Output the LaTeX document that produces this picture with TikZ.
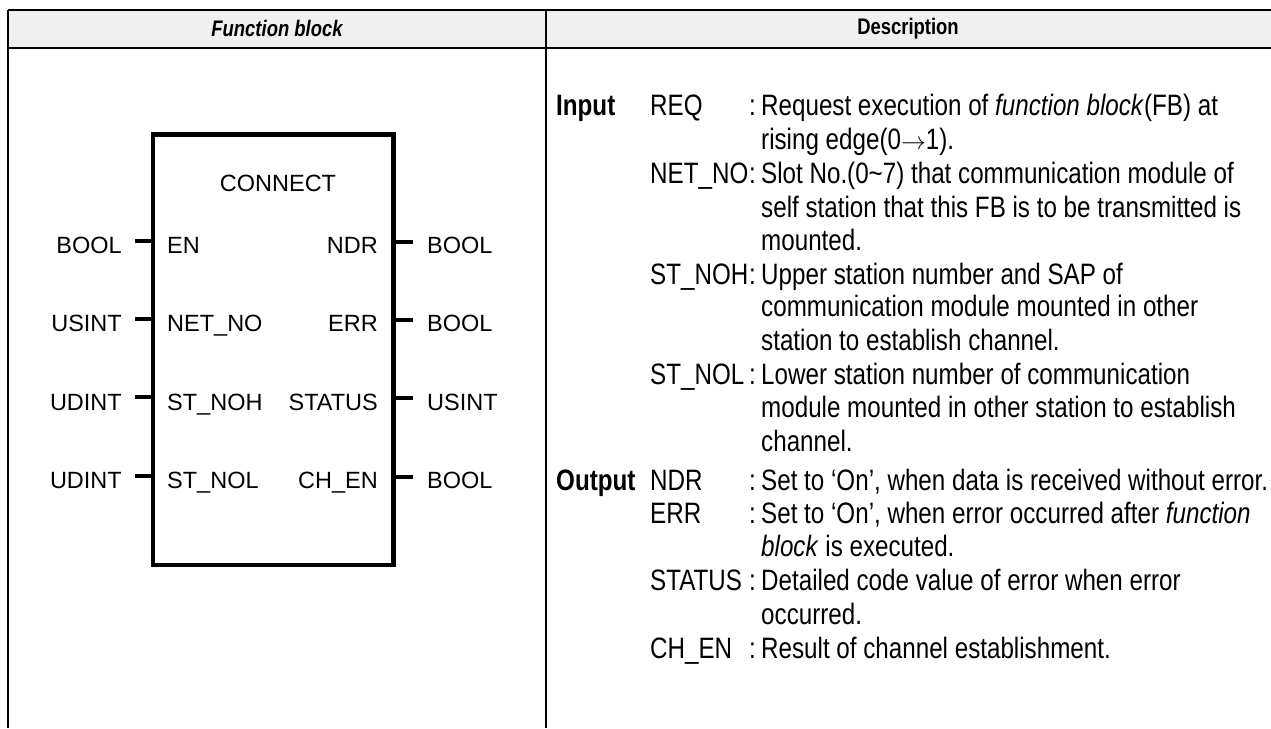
\documentclass[tikz,border=0pt]{standalone}
\usepackage{fontspec}
\setmainfont{Liberation Sans}
\newfontfamily\narfont[FakeStretch=0.82]{Liberation Sans}
\definecolor{hdrfill}{HTML}{F0F0F0}
\begin{document}
\begin{tikzpicture}[x=1pt,y=-1pt,
  tline/.style={line width=2pt},
  blk/.style={font=\fontsize{23.5}{28}\selectfont, inner sep=0pt},
  desc/.style={font=\narfont\fontsize{29.5}{34}\selectfont, inner sep=0pt, anchor=base west},
  descb/.style={desc, font=\narfont\bfseries\fontsize{29.5}{34}\selectfont},
  hdr/.style={font=\narfont\bfseries\fontsize{22.5}{26}\selectfont, inner sep=0pt},
  pin/.style={line width=4pt},
  fbbox/.style={draw, line width=4.7pt, inner sep=0pt, minimum width=240.3pt, minimum height=430.7pt}
]
\useasboundingbox (0,0) rectangle (1271,728);
% table
\fill[hdrfill] (8,9.5) rectangle (1271,47.5);
\coordinate (tl) at (8,9.5);
\coordinate (tr) at (1271,9.5);
\coordinate (hl) at (8,47.5);
\coordinate (hr) at (1271,47.5);
\coordinate (bl) at (8,728);
\coordinate (dt) at (546,9.5);
\coordinate (db) at (546,728);
\draw[tline] (tl) -- (tr);
\draw[tline] (hl) -- (hr);
\draw[tline] (tl) -- (bl);
\draw[tline] (dt) -- (db);
\node[hdr] (h1) at (277,28.5) {\itshape Function block};
\node[hdr] (h2) at (908,28.5) {Description};

% function block
\node[fbbox] (fb) at (273.15,349.65) {};
\node[blk] (title) at (278,183) {CONNECT};

\foreach \nm/\yy in {a/245, b/323.3, c/401.6, d/480} {
  \coordinate (in\nm) at (135,\yy-4.5);
  \coordinate (out\nm) at (413,\yy-3.5);
  \draw[pin] (in\nm) -- (in\nm -| fb.west);
  \draw[pin] (out\nm -| fb.east) -- (out\nm);
}
\node[blk, anchor=base east] (ta) at (122,253.4) {BOOL};
\node[blk, anchor=base east] (tb) at (122,331.7) {USINT};
\node[blk, anchor=base east] (tc) at (122,410.0) {UDINT};
\node[blk, anchor=base east] (td) at (122,488.4) {UDINT};
\node[blk, anchor=base west] (pa) at (167,253.4) {EN};
\node[blk, anchor=base west] (pb) at (167,331.7) {NET\_NO};
\node[blk, anchor=base west] (pc) at (167,410.0) {ST\_NOH};
\node[blk, anchor=base west] (pd) at (167,488.4) {ST\_NOL};
\node[blk, anchor=base east] (qa) at (378,253.4) {NDR};
\node[blk, anchor=base east] (qb) at (378,331.7) {ERR};
\node[blk, anchor=base east] (qc) at (378,410.0) {STATUS};
\node[blk, anchor=base east] (qd) at (378,488.4) {CH\_EN};
\node[blk, anchor=base west] (ra) at (427,253.4) {BOOL};
\node[blk, anchor=base west] (rb) at (427,331.7) {BOOL};
\node[blk, anchor=base west] (rc) at (427,410.0) {USINT};
\node[blk, anchor=base west] (rd) at (427,488.4) {BOOL};

% description
\node[descb] (inp) at (556,115.9) {Input};
\node[descb] (outp) at (556,490.9) {Output};

\node[desc] (l1) at (650,115.9) {REQ};
\node[desc] (c1) at (749,115.9) {:};
\node[desc] (t1a) at (761,115.9) {Request execution of \textit{function block}(FB) at};
\node[desc] (t1b) at (761,149.9) {rising edge(0$\rightarrow$1).};

\node[desc] (l2) at (650,183.9) {NET\_NO};
\node[desc] (c2) at (749,183.9) {:};
\node[desc] (t2a) at (761,183.9) {Slot No.(0\textasciitilde 7) that communication module of};
\node[desc] (t2b) at (761,217.9) {self station that this FB is to be transmitted is};
\node[desc] (t2c) at (761,250.9) {mounted.};

\node[desc] (l3) at (650,284.9) {ST\_NOH};
\node[desc] (c3) at (749,284.9) {:};
\node[desc] (t3a) at (761,284.9) {Upper station number and SAP of};
\node[desc] (t3b) at (761,316.9) {communication module mounted in other};
\node[desc] (t3c) at (761,350.9) {station to establish channel.};

\node[desc] (l4) at (650,384.9) {ST\_NOL};
\node[desc] (c4) at (749,384.9) {:};
\node[desc] (t4a) at (761,384.9) {Lower station number of communication};
\node[desc] (t4b) at (761,417.9) {module mounted in other station to establish};
\node[desc] (t4c) at (761,451.9) {channel.};

\node[desc] (l5) at (650,490.9) {NDR};
\node[desc] (c5) at (749,490.9) {:};
\node[desc] (t5a) at (761,490.9) {Set to ‘On’, when data is received without error.};

\node[desc] (l6) at (650,523.9) {ERR};
\node[desc] (c6) at (749,523.9) {:};
\node[desc] (t6a) at (761,523.9) {Set to ‘On’, when error occurred after \textit{function}};
\node[desc] (t6b) at (761,556.9) {\textit{block} is executed.};

\node[desc] (l7) at (650,590.9) {STATUS};
\node[desc] (c7) at (749,590.9) {:};
\node[desc] (t7a) at (761,590.9) {Detailed code value of error when error};
\node[desc] (t7b) at (761,624.9) {occurred.};

\node[desc] (l8) at (650,658.9) {CH\_EN};
\node[desc] (c8) at (749,658.9) {:};
\node[desc] (t8a) at (761,658.9) {Result of channel establishment.};
\end{tikzpicture}
\end{document}
